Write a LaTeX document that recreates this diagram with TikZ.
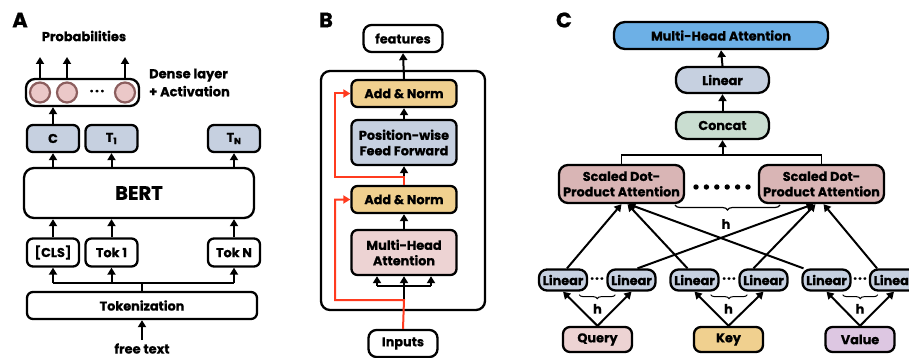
\documentclass[tikz,border=0pt]{standalone}
\usepackage{fontspec}
\setmainfont{Poppins}[BoldFeatures={FakeBold=0.6}]
\usetikzlibrary{arrows.meta,decorations.pathreplacing,calc}

\definecolor{boxblue}{HTML}{C6D0E0}
\definecolor{boxtan}{HTML}{F0D08F}
\definecolor{boxpink}{HTML}{EDD3D3}
\definecolor{boxrose}{HTML}{D9B5B5}
\definecolor{boxgreen}{HTML}{C9DDD0}
\definecolor{boxsky}{HTML}{6DB0E6}
\definecolor{boxlilac}{HTML}{DDC7E2}
\definecolor{cellfill}{HTML}{EBC8C8}
\definecolor{celldraw}{HTML}{8C5E5E}
\definecolor{resred}{HTML}{FF3B1F}

\tikzset{
  blk/.style={draw, line width=2.3pt, rounded corners=6pt, inner sep=0pt, align=center,
    font=\fontsize{12.8}{15.5}\selectfont\bfseries},
  lin/.style={blk, fill=boxblue, minimum width=48, minimum height=21, rounded corners=8pt},
  cell/.style={circle, draw=celldraw, fill=cellfill, line width=2.2pt, minimum size=20pt, inner sep=0pt},
  arr/.style={-{Triangle[length=7pt,width=8pt]}, line width=2pt},
  resarr/.style={arr, draw=resred, color=resred},
  ln/.style={line width=2pt},
  txt/.style={font=\fontsize{13}{18}\selectfont\bfseries, inner sep=0pt},
  panel/.style={font=\fontsize{21}{24}\selectfont\bfseries, inner sep=0pt},
  hbrace/.style={decorate, decoration={brace, mirror, amplitude=5pt}, line width=1.2pt}
}

\begin{document}
\begin{tikzpicture}[x=1pt, y=-1pt]
  \useasboundingbox (0,0) rectangle (909,358);

  % A
  \node[panel] (labA) at (20,20) {A};
  \node[txt] (prob) at (84,36) {Probabilities};
  \node[blk, minimum width=113, minimum height=27, rounded corners=9pt] (dense) at (82.5,92.5) {};
  \node[cell] (c1) at (40,92.5) {};
  \node[cell] (c2) at (67,92.5) {};
  \node[cell] (c3) at (125,92.5) {};
  \node[txt] (cdots) at (97,92.5) {·\kern1.5pt·\kern1.5pt·};
  \node[txt, anchor=west, align=left] (dlab) at (149,82.5) {Dense layer\\+ Activation};
  \coordinate (out) at (0,57);
  \foreach \c in {c1,c2,c3}
    \draw[arr] (\c |- dense.north) -- (\c |- out);

  \node[blk, fill=boxblue, minimum width=52, minimum height=27] (cC) at (53,138.5) {C};
  \node[blk, fill=boxblue, minimum width=52, minimum height=27] (t1) at (111.5,138.5) {T\textsubscript{1}};
  \node[blk, fill=boxblue, minimum width=52, minimum height=27] (tn) at (234,138.5) {T\textsubscript{N}};
  \draw[arr] (cC.north) -- (cC |- dense.south);

  \node[blk, minimum width=230, minimum height=50, rounded corners=10pt,
    font=\fontsize{19.5}{22}\selectfont\bfseries] (bert) at (139,193) {BERT};
  \foreach \n in {cC,t1,tn}
    \draw[arr] (\n |- bert.north) -- (\n.south);

  \node[blk, minimum width=52, minimum height=28] (cls) at (53,252.5) {[CLS]};
  \node[blk, minimum width=52, minimum height=28] (tok1) at (111.5,252.5) {Tok 1};
  \node[blk, minimum width=52, minimum height=28] (tokn) at (234,252.5) {Tok N};
  \foreach \n in {cls,tok1,tokn}
    \draw[arr] (\n.north) -- (\n |- bert.south);

  \node[blk, minimum width=230, minimum height=27] (tokz) at (142,305.5) {Tokenization};
  \coordinate (tsplit) at (142,283);
  \draw[ln] (tokz.north) -- (tsplit);
  \draw[ln] (cls |- tsplit) -- (tokn |- tsplit);
  \foreach \n in {cls,tok1,tokn}
    \draw[arr] (\n |- tsplit) -- (\n.south);
  \node[txt] (free) at (142,348.5) {free text};
  \draw[arr] ([yshift=3pt]free.north) -- (tokz.south);

  % B
  \node[panel] (labB) at (326,20) {B};
  \node[blk, minimum width=164, minimum height=239, rounded corners=9pt] (enc) at (403,190.5) {};
  \node[blk, minimum width=79, minimum height=27, rounded corners=8pt] (feat) at (403,38.5) {features};
  \node[blk, fill=boxtan, minimum width=105, minimum height=27] (an1) at (404,93.5) {Add \& Norm};
  \node[blk, fill=boxblue, minimum width=105, minimum height=45] (pwff) at (404,142.5) {Position-wise\\Feed Forward};
  \node[blk, fill=boxtan, minimum width=105, minimum height=27] (an2) at (404,199.5) {Add \& Norm};
  \node[blk, fill=boxpink, minimum width=105, minimum height=45] (mhaB) at (404,252.5) {Multi-Head\\Attention};
  \node[blk, minimum width=69, minimum height=27, rounded corners=8pt] (inputs) at (403,343.5) {Inputs};
  \draw[arr] (an1.north) -- (feat.south);
  \draw[arr] (pwff.north) -- (an1.south);
  \draw[arr] (an2.north) -- (pwff.south);
  \draw[arr] (mhaB.north) -- (an2.south);

  \coordinate (rb) at (404,300);
  \coordinate (rl) at (335,300);
  \coordinate (msplit) at (404,285);
  \draw[ln] (rb) -- (msplit);
  \draw[ln] ($(mhaB.south)+(-27,10)$) -- ($(mhaB.south)+(27,10)$);
  \foreach \dx in {-27,0,27}
    \draw[arr] ($(mhaB.south)+(\dx,10)$) -- ($(mhaB.south)+(\dx,0)$);
  \draw[resarr] (inputs.north) -- (rb) -- (rl) -- (rl |- an2.west) -- (an2.west);
  \coordinate (rt) at (404,177);
  \coordinate (rtl) at (335,177);
  \draw[resarr] (an2.north) -- (rt) -- (rtl) -- (rtl |- an1.west) -- (an1.west);

  % C
  \node[panel] (labC) at (564,20) {C};
  \node[blk, fill=boxsky, minimum width=214, minimum height=27, rounded corners=11pt] (mhaC) at (721,35.5) {Multi-Head Attention};
  \node[blk, fill=boxblue, minimum width=93, minimum height=26, rounded corners=11pt] (linC) at (722.5,80) {Linear};
  \node[blk, fill=boxgreen, minimum width=93, minimum height=27, rounded corners=11pt] (concat) at (722.5,125.5) {Concat};
  \draw[arr] (linC.north) -- (mhaC.south);
  \draw[arr] (concat.north) -- (linC.south);

  \node[blk, fill=boxrose, minimum width=125, minimum height=38, rounded corners=9pt] (sdpa1) at (621.5,184) {Scaled Dot-\\Product Attention};
  \node[blk, fill=boxrose, minimum width=125, minimum height=38, rounded corners=9pt] (sdpa2) at (821.5,184) {Scaled Dot-\\Product Attention};
  \coordinate (csplit) at (722.5,155);
  \draw[arr] (csplit) -- (concat.south);
  \draw[line width=1.6pt] (sdpa1.north) -- (sdpa1.north |- csplit) -- (sdpa2.north |- csplit) -- (sdpa2.north);
  \foreach \i in {0,...,5}
    \fill (696+\i*10.4,187) circle (2.7pt);
  \draw[hbrace] (675,205) -- (780,205);
  \node[txt] (hs) at (726,224) {h};

  \foreach \n/\x in {l1/563,l2/631.5,l3/694.5,l4/763.5,l5/826.5,l6/894}
    \node[lin] (\n) at (\x,280) {Linear};
  \foreach \n/\x in {qd/597,kd/729,vd/860}
    \node[txt] (\n) at (\x,280) {·\kern1pt·\kern1pt·};

  \node[blk, fill=boxpink, minimum width=69, minimum height=25, rounded corners=7pt] (query) at (597.5,339.5) {Query};
  \node[blk, fill=boxtan, minimum width=69, minimum height=25, rounded corners=7pt] (key) at (728.5,339.5) {Key};
  \node[blk, fill=boxlilac, minimum width=69, minimum height=25, rounded corners=7pt] (value) at (860,339.5) {Value};

  \foreach \a/\b/\s in {l1/l2/query,l3/l4/key,l5/l6/value}{
    \draw[arr] (\s.north) -- (\a.south);
    \draw[arr] (\s.north) -- (\b.south);
    \draw[hbrace, line width=1pt, decoration={amplitude=4pt}] ($(\a.south east)+(-9,3)$) -- ($(\b.south west)+(9,3)$);
    \node[txt] (h\s) at ($(\s.north)+(0,-17)$) {h};
  }

  \draw[arr] ($(l1.north)+(4,0)$) -- ($(sdpa1.south)+(0,0)$);
  \draw[arr] ($(l3.north)+(-7,0)$) -- ($(sdpa1.south)+(6,0)$);
  \draw[arr] ($(l5.north)+(-23,0)$) -- ($(sdpa1.south)+(7,0)$);
  \draw[arr] ($(l2.north)+(6,0)$) -- ($(sdpa2.south)+(-8,0)$);
  \draw[arr] ($(l4.north)+(-10,0)$) -- ($(sdpa2.south)+(-6,0)$);
  \draw[arr] ($(l6.north)+(-17,0)$) -- ($(sdpa2.south)+(2,0)$);
\end{tikzpicture}
\end{document}
